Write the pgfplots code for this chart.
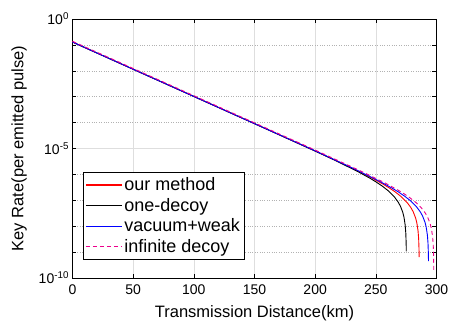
\documentclass[border=0pt]{standalone}
\usepackage{pgfplots}
\pgfplotsset{compat=1.18}
\usepackage{fontspec}
\setmainfont{Liberation Sans}
\begin{document}
\begin{tikzpicture}
\begin{axis}[
  name=ax,
  at={(0,0)}, anchor=south west,
  scale only axis,
  width=364pt, height=259pt,
  xmin=0, xmax=300,
  ymode=log, ymin=1e-10, ymax=1,
  xtick={0,50,100,150,200,250,300},
  ytick={1e-10,1e-5,1},
  yticklabels={10\textsuperscript{-10},10\textsuperscript{-5},10\textsuperscript{0}},
  minor ytick={1e-9,1e-8,1e-7,1e-6,1e-4,1e-3,1e-2,1e-1},
  tick align=inside,
  major tick length=4pt, minor tick length=4pt,
  tick style={black, line width=0.5pt},
  axis line style={black, line width=0.7pt},
  grid=both,
  major grid style={black!13, line width=0.6pt},
  minor grid style={black!30, dotted, line width=0.6pt},
  /pgf/number format/assume math mode=true,
  ticklabel style={font=\fontsize{14}{16}\selectfont},
  xticklabel style={yshift=-3pt},
  xlabel={Transmission Distance(km)},
  ylabel={Key Rate(per emitted pulse)},
  label style={font=\fontsize{16.5}{19}\selectfont},
  xlabel style={at={(axis description cs:0.5,-0.105)}, anchor=north, inner sep=0pt},
  ylabel style={at={(axis description cs:-0.125,0.5)}, anchor=south, inner sep=0pt},
  legend cell align=left,
  legend style={at={(0.029,0.07)}, anchor=south west, draw=black,
    font=\fontsize{18}{20}\selectfont, inner xsep=2pt, inner ysep=4pt,
    row sep=2.5pt,
    nodes={inner ysep=1.75pt, inner xsep=2pt}},
  legend image code/.code={\draw[#1, line width=1.2pt] (0pt,0pt) -- (36pt,0pt);},
]
\addplot[red, line width=0.9pt] coordinates {
(0,0.1288) (50,1.148e-2) (100,1.023e-3) (150,9.120e-5) (200,8.072e-6)
(225.8,2.218e-6) (245.8,7.674e-7) (255.8,4.246e-7) (260.8,3.062e-7)
(265.8,2.133e-7) (270.8,1.400e-7) (275.8,8.185e-8) (278.8,5.309e-8)
(280.8,3.614e-8) (282.8,2.065e-8) (283.8,1.346e-8) (284.8,6.561e-9)
(285.3,3.251e-9) (285.6,1.288e-9) (285.7,6.427e-10)
};
\addlegendentry{\vphantom{(y}our method}
\addplot[black, line width=0.9pt] coordinates {
(0,0.1288) (50,1.148e-2) (100,1.023e-3) (150,9.120e-5) (200,7.943e-6)
(215.2,3.707e-6) (235.2,1.282e-6) (245.2,7.096e-7) (250.2,5.117e-7)
(255.2,3.565e-7) (260.2,2.339e-7) (265.2,1.368e-7) (268.2,8.872e-8)
(270.2,6.039e-8) (272.2,3.451e-8) (273.2,2.249e-8) (274.2,1.096e-8)
(274.7,5.420e-9) (275.0,2.153e-9) (275.1,1.074e-9)
};
\addlegendentry{\vphantom{(y}one-decoy}
\addplot[blue, line width=0.9pt] coordinates {
(0,0.1288) (50,1.148e-2) (100,1.023e-3) (150,9.120e-5) (200,8.128e-6)
(233.5,1.531e-6) (253.5,5.297e-7) (263.5,2.931e-7) (268.5,2.113e-7)
(273.5,1.472e-7) (278.5,9.661e-8) (283.5,5.649e-8) (286.5,3.664e-8)
(288.5,2.495e-8) (290.5,1.426e-8) (291.5,9.290e-9) (292.5,4.529e-9)
(293.0,2.244e-9) (293.3,8.913e-10) (293.4,4.446e-10)
};
\addlegendentry{\vphantom{(y}vacuum+weak}
\addplot[magenta, line width=0.9pt, dash pattern=on 4pt off 3pt] coordinates {
(0,0.1380) (50,1.230e-2) (100,1.096e-3) (150,9.772e-5) (200,8.710e-6)
(237.8,1.334e-6) (257.8,4.613e-7) (267.8,2.553e-7) (272.8,1.841e-7)
(277.8,1.282e-7) (282.8,8.414e-8) (287.8,4.920e-8) (290.8,3.192e-8)
(292.8,2.173e-8) (294.8,1.242e-8) (295.8,8.091e-9) (296.8,3.945e-9)
(297.3,1.954e-9) (297.6,7.745e-10) (297.7,3.864e-10) (297.75,1.928e-10)
};
\addlegendentry{\vphantom{(y}infinite decoy}
\end{axis}
\pgfresetboundingbox
\path (-72.5pt,-46pt) rectangle (378.5pt,278pt);
\end{tikzpicture}
\end{document}
